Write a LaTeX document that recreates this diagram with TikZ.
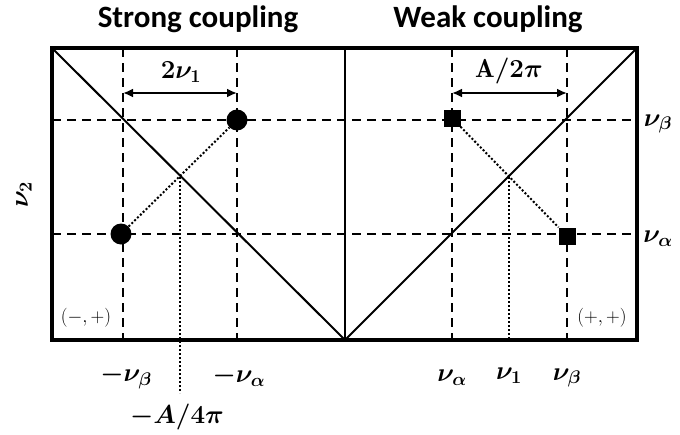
\documentclass[tikz,border=0pt]{standalone}
\usepackage{fix-cm}
\usepackage{amsmath}
\usepackage{fontspec}
\newfontfamily\titlefont{Carlito}
\usetikzlibrary{arrows.meta}
\begin{document}
\begin{tikzpicture}[x=1pt,y=-1pt,
  frameln/.style={line width=3.5pt},
  diagln/.style={line width=2pt},
  dashln/.style={line width=2.2pt,dash pattern=on 9pt off 6pt},
  dotln/.style={line width=2pt,dash pattern=on 2pt off 2pt},
  dimln/.style={line width=2pt,{Latex[length=10pt,width=9pt]}-{Latex[length=10pt,width=9pt]}},
  titletxt/.style={font=\titlefont\bfseries\fontsize{31}{34}\selectfont},
  labtxt/.style={font=\fontsize{26}{30}\selectfont,inner sep=0pt},
  quadtxt/.style={font=\fontsize{19}{22}\selectfont,inner sep=0pt},
  dotc/.style={circle,fill=black,minimum size=21pt,inner sep=0pt},
  dotsq/.style={rectangle,fill=black,minimum size=17pt,inner sep=0pt}]
\useasboundingbox (0,0) rectangle (680,434);
% frame coordinates
\coordinate (TL) at (52,48);
\coordinate (TR) at (637,48);
\coordinate (BL) at (52,340);
\coordinate (BR) at (637,340);
\coordinate (TM) at (345,48);
\coordinate (BM) at (345,340);
% dashed grid
\coordinate (v1t) at (123,48);  \coordinate (v1b) at (123,340);
\coordinate (v2t) at (237,48);  \coordinate (v2b) at (237,340);
\coordinate (v3t) at (452,48);  \coordinate (v3b) at (452,340);
\coordinate (v4t) at (567,48);  \coordinate (v4b) at (567,340);
\coordinate (h1l) at (52,120);  \coordinate (h1r) at (637,120);
\coordinate (h2l) at (52,234);  \coordinate (h2r) at (637,234);
\draw[dashln] (v1t) -- (v1b);
\draw[dashln] (v2t) -- (v2b);
\draw[dashln] (v3t) -- (v3b);
\draw[dashln] (v4t) -- (v4b);
\draw[dashln] (h1l) -- (h1r);
\draw[dashln] (h2l) -- (h2r);
% diagonals
\draw[diagln] (TL) -- (BM) -- (TR);
% frame
\draw[frameln] (TL) rectangle (BR);
\draw[line width=2.5pt] (TM) -- (BM);
% dotted
\coordinate (x1) at (180,177);
\coordinate (x1b) at (180,393);
\coordinate (x2) at (509,177);
\coordinate (x2b) at (509,340);
\node[dotc] (c1) at (237,120) {};
\node[dotc] (c2) at (121,234) {};
\node[dotsq] (s1) at (452,118) {};
\node[dotsq] (s2) at (567,236) {};
\draw[dotln] (c2) -- (c1);
\draw[dotln] (s1) -- (s2);
\draw[dotln] (x1) -- (x1b);
\draw[dotln] (x2) -- (x2b);
% dimension arrows
\coordinate (a1) at (123,93); \coordinate (a2) at (237,93);
\coordinate (a3) at (452,93); \coordinate (a4) at (567,93);
\draw[dimln] (a1) -- (a2);
\draw[dimln] (a3) -- (a4);
\node[labtxt] (l2nu) at (181,72) {$\boldsymbol{2\nu_1}$};
\node[labtxt] (lA) at (509,71) {$\boldsymbol{\mathrm{A}/2\pi}$};
% titles
\node[titletxt] (t1) at (198,19) {Strong coupling};
\node[titletxt] (t2) at (488,19) {Weak coupling};
% axis labels
\node[labtxt] (lnb) at (658,124) {$\boldsymbol{\nu_\beta}$};
\node[labtxt] (lna) at (658,239) {$\boldsymbol{\nu_\alpha}$};
\node[labtxt,rotate=90] (lnu2) at (24,195) {$\boldsymbol{\nu_2}$};
\node[labtxt] (b1) at (126,377) {$\boldsymbol{-\nu_\beta}$};
\node[labtxt] (b2) at (239,376) {$\boldsymbol{-\nu_\alpha}$};
\node[labtxt] (b3) at (177,417) {$\boldsymbol{-A/4\pi}$};
\node[labtxt] (b4) at (452,378) {$\boldsymbol{\nu_\alpha}$};
\node[labtxt] (b5) at (509,376) {$\boldsymbol{\nu_1}$};
\node[labtxt] (b6) at (567,378) {$\boldsymbol{\nu_\beta}$};
% quadrant labels
\node[quadtxt] (q1) at (86,318) {$(-,+)$};
\node[quadtxt] (q2) at (602,318) {$(+,+)$};
\end{tikzpicture}
\end{document}
